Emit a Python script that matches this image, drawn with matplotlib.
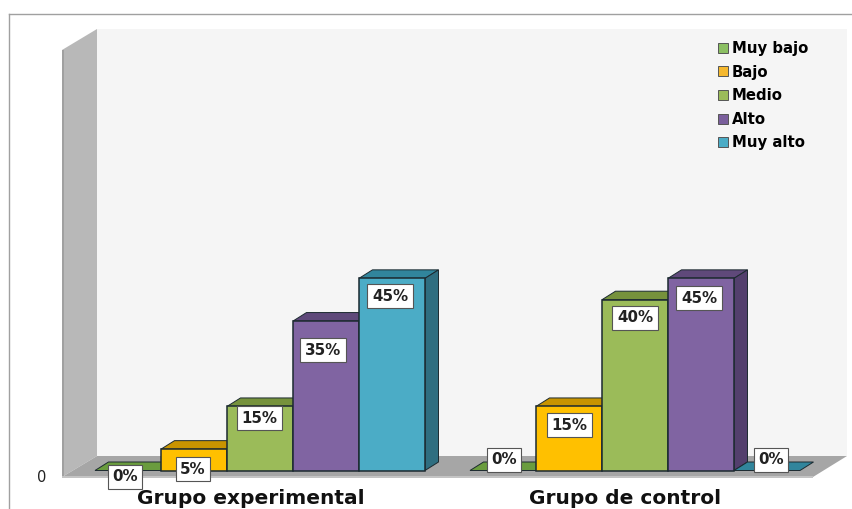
import matplotlib.pyplot as plt
from matplotlib.patches import Patch, Polygon

plt.rcParams['font.family'] = ['DejaVu Sans']

groups = ['Grupo experimental', 'Grupo de control']
series = ['Muy bajo', 'Bajo', 'Medio', 'Alto', 'Muy alto']
exp_values = [0, 5, 15, 35, 45]
ctrl_values = [0, 15, 40, 45, 0]

front_colors = ['#70a845', '#ffc000', '#9bbb59', '#8064a2', '#4bacc6']
top_colors = ['#6a9c3e', '#c89400', '#76923c', '#5f497a', '#31859c']
side_colors = ['#557d32', '#a87c00', '#647c33', '#533f6d', '#2f6e80']
legend_colors = ['#8cc063', '#f5b82e', '#9bbb59', '#7a5f9c', '#4bacc6']

W, H = 853, 509
SLOT = 66.0       # px per bar
PCT = 4.27        # px per percent
X0, Y0 = 95.0, 470.5
GROUP_STEP = 375 / SLOT
DEPTH_X, DEPTH_Y = 13.5 / SLOT, 8.5 / PCT

# label nudges in px from the middle of the bar top
exp_offsets = [(-3, -6), (-1, -20), (-1, -12), (-3, -29), (-2, -18)]
ctrl_offsets = [(1, 11), (0, -19), (0, -18), (-2, -20), (4, 11)]

fig = plt.figure(figsize=(W / 100, H / 100), dpi=100)
ax = fig.add_axes([0, 0, 1, 1])
ax.set_xlim(-X0 / SLOT, (W - X0) / SLOT)
ax.set_ylim(-(H - Y0) / PCT, Y0 / PCT)
ax.axis('off')


def px(x, y):
    return (x / W, 1 - y / H)


def chrome(points, color, z=1):
    fig_poly = Polygon([px(*p) for p in points], closed=True, transform=fig.transFigure,
                       facecolor=color, edgecolor='none', zorder=z)
    ax.add_patch(fig_poly)


# frame, walls and floor
ax.plot(*zip(px(9, 14), px(W, 14)), transform=fig.transFigure, color='#a0a0a0', lw=1, zorder=1)
ax.plot(*zip(px(9, 14), px(9, H)), transform=fig.transFigure, color='#a0a0a0', lw=1, zorder=1)
chrome([(97, 29), (847, 29), (847, 456), (97, 456)], '#f5f5f5')
chrome([(62, 50), (97, 29), (97, 456), (62, 477)], '#b8b8b8')
chrome([(62, 50), (64, 50), (64, 477), (62, 477)], '#a0a0a0')
chrome([(62, 477), (813, 477), (847, 456), (97, 456)], '#a6a6a6')
chrome([(62, 476), (813, 476), (813, 478), (62, 478)], '#c4c4c4')


def draw_bar(x, v, i, z):
    edge = '#1c2a30'
    top = [(x, v), (x + 1, v), (x + 1 + DEPTH_X, v + DEPTH_Y), (x + DEPTH_X, v + DEPTH_Y)]
    side = [(x + 1, 0), (x + 1 + DEPTH_X, DEPTH_Y), (x + 1 + DEPTH_X, v + DEPTH_Y), (x + 1, v)]
    ax.add_patch(Polygon(top, closed=True, facecolor=top_colors[i], edgecolor=edge, lw=0.7, zorder=z))
    if v > 0:
        ax.add_patch(Polygon(side, closed=True, facecolor=side_colors[i], edgecolor=edge, lw=0.7, zorder=z))
        ax.bar(x + 0.5, v, width=1, facecolor=front_colors[i], edgecolor=edge, lw=1.1, zorder=z)


for g, (values, offsets) in enumerate([(exp_values, exp_offsets), (ctrl_values, ctrl_offsets)]):
    start = g * GROUP_STEP
    for i, v in enumerate(values):
        draw_bar(start + i, v, i, 3 + i)
    for i, v in enumerate(values):
        ax.annotate(f'{v}%', (start + i + 0.5, v), xytext=offsets[i], textcoords='offset pixels',
                    ha='center', va='center', fontsize=10.8, fontweight='bold', color='#222222', zorder=10,
                    bbox=dict(boxstyle='square,pad=0.3', facecolor='white', edgecolor='#555555', lw=0.8))

fig.text(251 / W, 1 - 498 / H, groups[0], ha='center', va='center', fontsize=14.5, fontweight='bold', color='#111111')
fig.text(625 / W, 1 - 498 / H, groups[1], ha='center', va='center', fontsize=14.5, fontweight='bold', color='#111111')
fig.text(42 / W, 1 - 477 / H, '0', ha='center', va='center', fontsize=10.5, color='#222222')

handles = [Patch(facecolor=c, edgecolor='#555555', lw=0.7) for c in legend_colors]
ax.legend(handles, series, loc='upper left', bbox_to_anchor=(718 / W, 1 - 41 / H), bbox_transform=fig.transFigure,
          frameon=False, prop={'size': 10.7, 'weight': 'bold'}, handlelength=0.65, handleheight=0.65,
          handletextpad=0.3, labelspacing=0.58, borderpad=0, borderaxespad=0)

fig.savefig('out.png', dpi=100)
